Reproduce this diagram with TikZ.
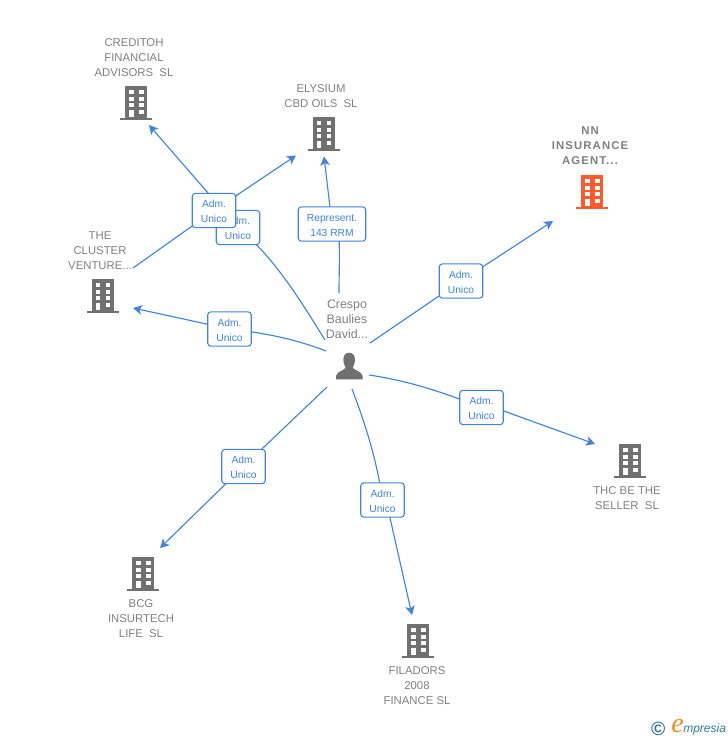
\documentclass[tikz,border=0pt]{standalone}
\usepackage{fontspec}
\setmainfont{Liberation Sans}
\newfontfamily\spacedfont[LetterSpace=10]{Liberation Sans}
\newfontfamily\logofont{Liberation Serif}
\usetikzlibrary{arrows.meta,backgrounds}
\definecolor{linkblue}{HTML}{3D85E0}
\definecolor{txtgray}{HTML}{808080}
\definecolor{icongray}{HTML}{707070}
\definecolor{accent}{HTML}{FF5A2C}
\definecolor{logoteal}{HTML}{2F7A94}
\definecolor{logoorange}{HTML}{F58A1F}
\newcommand{\tagtext}[2]{\rule{0pt}{7.2pt}#1\\#2}
\tikzset{
  x=0.75pt,y=-0.75pt,
  link/.style={draw=linkblue,line width=0.85pt},
  linkarrow/.style={link,-{Stealth[length=6.8pt,width=7.2pt,inset=1.8pt]}},
  tagbox/.style={draw=linkblue,line width=0.8pt,fill=white,rounded corners=2.2pt,text=linkblue,
    font=\fontsize{7.7pt}{11.25pt}\selectfont,align=center,minimum width=32.6pt,minimum height=25.6pt,inner sep=0pt,text depth=0pt},
  wide tagbox/.style={tagbox,minimum width=50.6pt},
  nameCap/.style={text=txtgray,font=\fontsize{8.5pt}{11.25pt}\selectfont,align=center,inner sep=0pt},
  mainCap/.style={text=txtgray,font=\spacedfont\bfseries\fontsize{8.5pt}{11.25pt}\selectfont,align=center,inner sep=0pt},
  personCap/.style={text=txtgray,font=\fontsize{9.3pt}{11.25pt}\selectfont,align=center,inner sep=0pt},
  pics/tower/.style={code={
    \fill[#1] (-11,-17) rectangle (11,15);
    \fill[#1] (-16,15) rectangle (16,17);
    \foreach \yy in {-13,-6.5,0}{
      \fill[white] (-7,\yy) rectangle (-2.3,\yy+4);
      \fill[white] (3,\yy) rectangle (7.7,\yy+4);
    }
    \fill[white] (-7,7) rectangle (-2.3,14.3);
    \fill[white] (3,7) rectangle (7.7,11);
  }},
}
\begin{document}
\begin{tikzpicture}
\useasboundingbox (0,0) rectangle (728,740);
% buildings
\pic (b1) at (136,103) {tower=icongray};
\pic (b2) at (323.5,134) {tower=icongray};
\pic (b3) at (592,192) {tower=accent};
\pic (b4) at (102.5,296) {tower=icongray};
\pic (b5) at (630,461) {tower=icongray};
\pic (b6) at (143,574) {tower=icongray};
\pic (b7) at (418,641) {tower=icongray};
% person
\fill[icongray] (349,352.7) .. controls (345,352.7) and (343.2,356) .. (343.4,360)
  .. controls (343.5,364) and (345,366) .. (345.5,367.5)
  .. controls (345.5,370) and (337,371) .. (336,376) -- (336,379.3) -- (362.7,379.3) -- (362.7,376)
  .. controls (361.5,371) and (353,370) .. (352.8,367.5)
  .. controls (353.3,366) and (354.8,364) .. (355,360)
  .. controls (355.2,356) and (353,352.7) .. (349,352.7) -- cycle;
% captions
\node[nameCap] (n1) at (134,58) {CREDITOH\\FINANCIAL\\ADVISORS\ \ SL};
\node[nameCap] (n2) at (321,96.5) {ELYSIUM\\CBD OILS\ \ SL};
\node[mainCap] (n3) at (590,146) {NN\\INSURANCE\\AGENT...};
\node[nameCap] (n4) at (100,251) {THE\\CLUSTER\\VENTURE...};
\node[nameCap] (n5) at (627,498) {THC BE THE\\SELLER\ \ SL};
\node[nameCap] (n6) at (141,619) {BCG\\INSURTECH\\LIFE\ \ SL};
\node[nameCap] (n7) at (417,686) {FILADORS\\2008\\FINANCE SL};
\node[personCap] (np) at (347,319.5) {Crespo\\Baulies\\David...};
% connector ends
\coordinate (s1) at (325,340); \coordinate (e1) at (149,125);
\coordinate (s2) at (133,268); \coordinate (e2) at (296,155.5);
\coordinate (s3) at (339,293); \coordinate (e3) at (324,156.5);
\coordinate (s4) at (370,343); \coordinate (e4) at (553,221);
\coordinate (s5) at (326,351); \coordinate (e5) at (133,308);
\coordinate (s6) at (369,375); \coordinate (e6) at (595,444);
\coordinate (s7) at (327,387); \coordinate (e7) at (160,548);
\coordinate (s8) at (352,389); \coordinate (e8) at (412,615);
% tags
\node[tagbox] (t1) at (238,227.5) {\tagtext{Adm.}{Unico}};
\node[tagbox] (t2) at (214,210.5) {\tagtext{Adm.}{Unico}};
\node[wide tagbox] (t3) at (332,224) {\tagtext{Represent.}{143 RRM}};
\node[tagbox] (t4) at (461,281) {\tagtext{Adm.}{Unico}};
\node[tagbox] (t5) at (229.5,329) {\tagtext{Adm.}{Unico}};
\node[tagbox] (t6) at (481.5,407.5) {\tagtext{Adm.}{Unico}};
\node[tagbox] (t7) at (243.5,466.5) {\tagtext{Adm.}{Unico}};
\node[tagbox] (t8) at (382.5,500) {\tagtext{Adm.}{Unico}};
% connectors
\begin{pgfonlayer}{background}
\draw[link] (s1) .. controls (302,303) and (275,258) .. (t1.center);
\draw[linkarrow] (t1.center) -- (e1);
\draw[link] (s2) -- (t2.center);
\draw[linkarrow] (t2.center) -- (e2);
\draw[link] (s3) .. controls (339,275) and (340,255) .. ([xshift=5pt]t3.center);
\draw[linkarrow] (t3.center) -- (e3);
\draw[link] (s4) -- (t4.center);
\draw[linkarrow] (t4.center) -- (e4);
\draw[link] (s5) .. controls (295,339) and (265,333) .. (t5.center);
\draw[linkarrow] (t5.center) -- (e5);
\draw[link] (s6) .. controls (410,381) and (445,393) .. (t6.center);
\draw[linkarrow] ([yshift=3.4pt]t6.center) -- (e6);
\draw[link] (s7) -- (t7.center);
\draw[linkarrow] (t7.center) -- (e7);
\draw[link] (s8) .. controls (364,420) and (377,460) .. (t8.center);
\draw[linkarrow] ([xshift=2.6pt]t8.center) -- (e8);
\end{pgfonlayer}
% logo
\node[text=logoteal,font=\bfseries\fontsize{14.5pt}{15pt}\selectfont,inner sep=0pt] (lc) at (658.3,728.5) {©};
\node[text=logoorange,font=\logofont\itshape\fontsize{21pt}{21pt}\selectfont,inner sep=0pt] (le) at (677.5,726) {e};
\node[text=logoteal,font=\itshape\fontsize{9pt}{12pt}\selectfont,inner sep=0pt,anchor=west] (lm) at (683,729.5) {mpresia};
\end{tikzpicture}
\end{document}
